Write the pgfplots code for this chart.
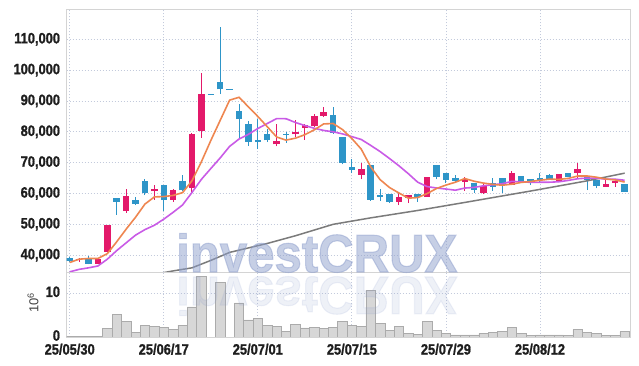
\documentclass[border=0pt]{standalone}
\usepackage{fontspec}
\setmainfont{Liberation Sans}
\newfontfamily\tickfont[FakeStretch=0.86, FakeBold=1.2]{Liberation Sans Bold}
\newfontfamily\wmfont[FakeStretch=0.92, FakeBold=2]{Liberation Sans Bold}
\usepackage{pgfplots}
\usepackage{pgfplotstable}
\pgfplotsset{compat=1.18}

\definecolor{upc}{HTML}{E3196A}
\definecolor{dnc}{HTML}{2E95C8}
\definecolor{ma5}{HTML}{EE8650}
\definecolor{ma10}{HTML}{C95BE6}
\definecolor{ma60}{HTML}{7B7B7B}
\definecolor{gridc}{HTML}{C3CADC}
\definecolor{framec}{HTML}{D4D4D4}
\definecolor{volf}{HTML}{D7D7D7}
\definecolor{vold}{HTML}{ABABAB}
\definecolor{wm}{HTML}{8E9FCC}
\definecolor{lab}{HTML}{1E1E1E}

\pgfplotstableread{
i o h l c
1 38500 39100 37800 38700
3 37300 39240 37300 38900
4 41080 49800 41000 49720
6 54260 61600 53700 59120
9 60700 62900 58040 61400
11 57900 61400 57270 61000
13 61740 79500 60100 79420
14 80290 99170 78120 92220
22 75920 82580 75270 76990
24 79140 83980 78280 79890
25 81180 82580 77420 82260
26 81940 85800 81500 85050
27 85050 87960 84730 86560
31 66020 70030 64620 67860
35 57270 60310 56200 58790
36 58570 59440 56850 59440
38 58890 65500 58890 65500
42 63750 65500 60830 64850
44 60310 63550 60000 62450
47 62900 67220 62680 66570
52 63880 66250 63880 66250
54 66670 69800 65170 67860
57 62130 65170 62130 63230
58 63330 63980 62130 63980
}\up

\pgfplotstableread{
i o h l c
0 39200 39400 37800 38000
2 39240 39680 36980 37190
5 58470 58500 53180 57280
7 57820 58900 56200 56520
8 63980 64620 59440 60200
10 62790 62900 54360 57820
12 63900 66080 60760 60980
15 92400 92400 92000 92000
16 96240 113920 92220 93740
17 94000 94000 93600 93600
18 86800 88860 78010 84090
19 82460 83440 75410 76710
20 77250 84200 74430 76600
21 79250 80970 76670 77200
23 79350 79890 76450 79030
28 85360 88180 79400 79750
29 78230 78230 69480 70030
30 68510 71330 66570 67640
32 69160 69160 57600 57920
33 59440 61610 57590 59020
34 59760 59760 57000 57270
37 59990 59990 57400 58890
39 69160 69160 64620 65500
40 66570 66570 63550 64300
41 65050 65930 63550 64080
43 63330 63550 60300 61160
45 63550 65170 60830 62260
46 65170 65170 60200 62680
48 65820 65820 63980 63980
49 64620 64620 62680 63980
50 64950 66570 63550 64300
51 65920 66250 64400 64400
53 66570 66570 65500 65500
55 65500 65500 61060 64400
56 64300 64300 61700 62450
59 63000 63000 60510 60510
}\down

\pgfplotstableread{
i v
0 0.15
1 0.15
2 0.15
3 0.15
4 2.0
5 5.2
6 3.6
7 1.1
8 2.7
9 2.4
10 2.2
11 1.7
12 2.7
13 6.9
14 13.9
15 0
16 12.5
17 0
18 7.8
19 3.9
20 4.3
21 2.7
22 2.4
23 1.3
24 2.9
25 2.1
26 2.2
27 2.0
28 2.2
29 3.5
30 2.6
31 2.4
32 10.6
33 3.1
34 1.5
35 2.4
36 0.85
37 0.55
38 3.6
39 1.5
40 0.85
41 0.5
42 0.5
43 0.5
44 0.85
45 1.05
46 1.25
47 2.2
48 0.85
49 0.35
50 0.5
51 0.5
52 0.5
53 0.3
54 1.7
55 1.05
56 0.85
57 0.3
58 0.3
59 1.2
}\vol

\pgfplotsset{
  tl/.style={font=\tickfont\fontsize{15}{15}\selectfont, text=lab},
  frame/.style={
    scale only axis, anchor=south west,
    xmin=-0.32, xmax=59.57,
    xtick={0,10,...,50},
    grid=major,
    major grid style={gridc, dash pattern=on 1bp off 2bp, line width=0.8bp},
    axis line style={framec, line width=1bp},
    major tick length=0pt, tick style={draw=none},
    scaled y ticks=false,
    yticklabel style={tl, anchor=east, inner sep=0pt, xshift=-6.5bp},
  },
  candle/.style 2 args={draw=none, no markers, forget plot,
    error bars/.cd, y dir=plus, y explicit, error mark=none,
    error bar style={line width=#1, draw=#2}},
}

\begin{document}
\begin{tikzpicture}
\path[use as bounding box] (0,0) rectangle (639bp,366bp);

\begin{axis}[frame,
  at={(66.7bp,93.7bp)}, width=563.3bp, height=263bp,
  ymin=34450, ymax=119730,
  xticklabels={},
  ytick={40000,50000,60000,70000,80000,90000,100000,110000},
  yticklabels={{40,000},{50,000},{60,000},{70,000},{80,000},{90,000},{100,000},{110,000}},
]
% wicks
\addplot[candle={1bp}{upc}]
  table[x=i, y=l, y error plus expr=\thisrow{h}-\thisrow{l}] {\up};
\addplot[candle={1bp}{dnc}]
  table[x=i, y=l, y error plus expr=\thisrow{h}-\thisrow{l}] {\down};
% bodies
\addplot[candle={6.5bp}{upc}]
  table[x=i, y=o, y error plus expr=\thisrow{c}-\thisrow{o}] {\up};
\addplot[candle={6.5bp}{dnc}]
  table[x=i, y=c, y error plus expr=\thisrow{o}-\thisrow{c}] {\down};
% moving averages
\addplot[ma60, line width=1.5bp, mark=none] coordinates {
(9,33800)(11,34900)(13,35900)(15,38300)(17,40900)(21,43800)(24,46300)(28,50000)(32,52100)(37,54500)(42,57100)(49,60800)(55,64100)(59,66600)};
\addplot[ma10, line width=1.6bp, mark=none] coordinates {
(0,34600)(1,35400)(2,35900)(3,36500)(4,38700)(5,41500)(6,44000)(7,46500)(8,48300)(9,49700)(10,51680)(11,53910)(12,56290)(13,60340)(14,64590)(15,68090)(16,71550)(17,75270)(18,77660)(19,79190)(20,81070)(21,82690)(22,84290)(23,84250)(24,83020)(25,82030)(26,81160)(27,80440)(28,80000)(29,79340)(30,78440)(31,77510)(32,75600)(33,73600)(34,71340)(35,68990)(36,66430)(37,63660)(38,62240)(39,61780)(40,61450)(41,61070)(42,61760)(43,61980)(44,62500)(45,62840)(46,63170)(47,63940)(48,63780)(49,63630)(50,63630)(51,63660)(52,63800)(53,64240)(54,64780)(55,64990)(56,64970)(57,64640)(58,64640)(59,64290)};
\addplot[ma5, line width=1.6bp, mark=none] coordinates {
(0,37630)(1,38700)(2,38930)(3,38930)(4,40500)(5,44360)(6,48440)(7,52310)(8,56570)(9,58900)(10,59010)(11,59380)(12,60280)(13,64120)(14,70290)(15,77170)(16,83720)(17,90270)(18,91200)(19,88100)(20,84980)(21,81670)(22,78320)(23,77310)(24,77940)(25,79070)(26,80640)(27,82560)(28,82700)(29,80730)(30,77810)(31,74370)(32,68640)(33,64490)(34,61940)(35,60170)(36,58490)(37,58680)(38,59980)(39,61620)(40,62730)(41,63650)(42,64850)(43,63980)(44,63370)(45,62960)(46,62680)(47,63020)(48,63590)(49,63890)(50,64300)(51,64650)(52,64580)(53,64890)(54,65660)(55,65680)(56,65290)(57,64690)(58,64380)(59,63710)};
\end{axis}

\begin{axis}[frame,
  at={(66.7bp,29bp)}, width=563.3bp, height=64.7bp,
  ymin=0, ymax=14.8,
  xticklabels={25/05/30,25/06/17,25/07/01,25/07/15,25/07/29,25/08/12},
  xticklabel style={tl, anchor=north, inner sep=0pt, yshift=-6.5bp},
  ytick={0,10}, yticklabels={0,10},
  yticklabel style={yshift=1.5bp},
]
\addplot[ybar, bar width=1, fill=volf, draw=vold, line width=0.6bp] table[x=i, y=v] {\vol};
\end{axis}

\node[rotate=90, font=\fontsize{13}{13}\selectfont, text=black!75] at (33bp,63.5bp) {10\textsuperscript{6}};

\node[anchor=base west, inner sep=0pt, text=wm, opacity=0.5,
  font=\wmfont\fontsize{53.6}{54}\selectfont] at (176bp,94bp) {investCRUX};
\begin{scope}[yscale=-1, transform shape]
\node[anchor=base west, inner sep=0pt, text=wm, opacity=0.15,
  font=\wmfont\fontsize{53.6}{54}\selectfont] at (176bp,-89bp) {investCRUX};
\end{scope}
\end{tikzpicture}
\end{document}
